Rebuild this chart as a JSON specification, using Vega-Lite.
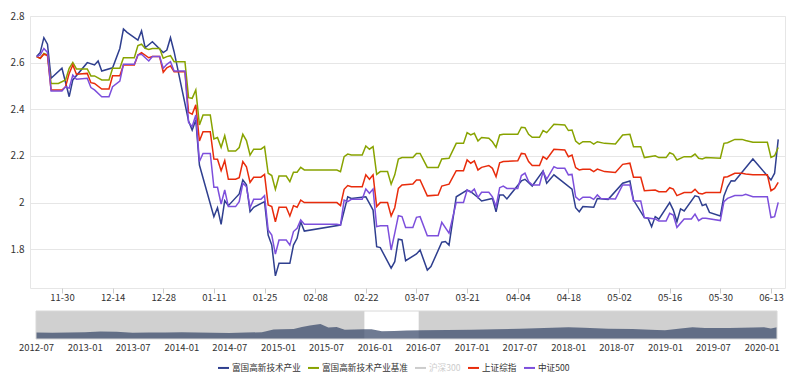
{
  "$schema": "https://vega.github.io/schema/vega-lite/v6.json",
  "padding": {"left": 9, "top": 10, "right": 5, "bottom": 0},
  "background": "white",
  "config": {"font": "Noto Sans CJK SC", "legend": {"orient": "none", "legendX": 187, "legendY": 345, "direction": "horizontal", "title": null, "symbolType": "stroke", "symbolStrokeWidth": 2, "symbolSize": 121, "labelFontSize": 8.6, "labelColor": "#333333", "columnPadding": 3, "labelOffset": 2, "padding": 0}},
  "spacing": 8,
  "datasets": {
    "b": [
      {"d":"2015-11-23","v":2.626},{"d":"2015-11-24","v":2.644},{"d":"2015-11-25","v":2.707},{"d":"2015-11-26","v":2.679},{"d":"2015-11-27","v":2.533},{"d":"2015-11-30","v":2.576},{"d":"2015-12-02","v":2.454},{"d":"2015-12-03","v":2.526},{"d":"2015-12-07","v":2.600},{"d":"2015-12-09","v":2.590},{"d":"2015-12-10","v":2.607},{"d":"2015-12-11","v":2.564},{"d":"2015-12-14","v":2.578},{"d":"2015-12-16","v":2.661},{"d":"2015-12-17","v":2.744},{"d":"2015-12-18","v":2.730},{"d":"2015-12-21","v":2.697},{"d":"2015-12-22","v":2.736},{"d":"2015-12-23","v":2.664},{"d":"2015-12-25","v":2.690},{"d":"2015-12-28","v":2.643},{"d":"2015-12-29","v":2.654},{"d":"2015-12-30","v":2.707},{"d":"2015-12-31","v":2.647},
      {"d":"2016-01-04","v":2.350},{"d":"2016-01-05","v":2.311},{"d":"2016-01-06","v":2.354},{"d":"2016-01-07","v":2.161},{"d":"2016-01-11","v":1.940},{"d":"2016-01-12","v":1.978},{"d":"2016-01-13","v":1.907},{"d":"2016-01-14","v":2.008},{"d":"2016-01-15","v":1.987},{"d":"2016-01-18","v":2.037},{"d":"2016-01-19","v":2.097},{"d":"2016-01-20","v":2.076},{"d":"2016-01-21","v":1.961},{"d":"2016-01-22","v":1.980},{"d":"2016-01-25","v":2.004},{"d":"2016-01-26","v":1.861},{"d":"2016-01-27","v":1.818},{"d":"2016-01-28","v":1.686},{"d":"2016-01-29","v":1.740},{"d":"2016-02-01","v":1.740},{"d":"2016-02-02","v":1.818},{"d":"2016-02-03","v":1.847},{"d":"2016-02-04","v":1.918},{"d":"2016-02-05","v":1.878},{"d":"2016-02-15","v":1.904},{"d":"2016-02-17","v":2.025},{"d":"2016-02-18","v":2.018},{"d":"2016-02-22","v":2.025},{"d":"2016-02-23","v":1.997},{"d":"2016-02-24","v":1.968},{"d":"2016-02-25","v":1.811},{"d":"2016-02-26","v":1.807},{"d":"2016-02-29","v":1.719},
      {"d":"2016-03-01","v":1.747},{"d":"2016-03-02","v":1.843},{"d":"2016-03-03","v":1.840},{"d":"2016-03-04","v":1.751},{"d":"2016-03-07","v":1.780},{"d":"2016-03-08","v":1.797},{"d":"2016-03-10","v":1.711},{"d":"2016-03-11","v":1.726},{"d":"2016-03-14","v":1.830},{"d":"2016-03-15","v":1.833},{"d":"2016-03-16","v":1.818},{"d":"2016-03-18","v":2.025},{"d":"2016-03-21","v":2.054},{"d":"2016-03-22","v":2.047},{"d":"2016-03-24","v":2.022},{"d":"2016-03-25","v":2.007},{"d":"2016-03-28","v":2.018},{"d":"2016-03-29","v":1.961},{"d":"2016-03-30","v":2.033},{"d":"2016-03-31","v":2.033},{"d":"2016-04-01","v":2.016},{"d":"2016-04-05","v":2.093},{"d":"2016-04-06","v":2.100},{"d":"2016-04-08","v":2.071},{"d":"2016-04-11","v":2.136},{"d":"2016-04-12","v":2.083},{"d":"2016-04-14","v":2.119},{"d":"2016-04-19","v":2.058},{"d":"2016-04-20","v":1.978},{"d":"2016-04-21","v":1.961},{"d":"2016-04-22","v":1.983},{"d":"2016-04-25","v":1.980},{"d":"2016-04-26","v":2.018},{"d":"2016-04-29","v":2.014},
      {"d":"2016-05-03","v":2.083},{"d":"2016-05-05","v":2.093},{"d":"2016-05-06","v":2.011},{"d":"2016-05-09","v":1.936},{"d":"2016-05-10","v":1.933},{"d":"2016-05-11","v":1.897},{"d":"2016-05-12","v":1.940},{"d":"2016-05-13","v":1.929},{"d":"2016-05-16","v":2.000},{"d":"2016-05-17","v":1.968},{"d":"2016-05-18","v":1.918},{"d":"2016-05-19","v":1.973},{"d":"2016-05-20","v":1.964},{"d":"2016-05-23","v":2.029},{"d":"2016-05-24","v":2.025},{"d":"2016-05-25","v":1.987},{"d":"2016-05-26","v":1.993},{"d":"2016-05-27","v":1.958},{"d":"2016-05-30","v":1.943},{"d":"2016-05-31","v":2.029},{"d":"2016-06-01","v":2.068},{"d":"2016-06-02","v":2.094},{"d":"2016-06-03","v":2.093},{"d":"2016-06-08","v":2.187},{"d":"2016-06-13","v":2.097},{"d":"2016-06-14","v":2.126},{"d":"2016-06-15","v":2.271}
    ],
    "g": [
      {"d":"2015-11-23","v":2.626},{"d":"2015-11-24","v":2.619},{"d":"2015-11-25","v":2.640},{"d":"2015-11-26","v":2.633},{"d":"2015-11-27","v":2.511},{"d":"2015-11-29","v":2.511},{"d":"2015-12-01","v":2.526},{"d":"2015-12-02","v":2.576},{"d":"2015-12-03","v":2.601},{"d":"2015-12-04","v":2.573},{"d":"2015-12-07","v":2.573},{"d":"2015-12-08","v":2.543},{"d":"2015-12-09","v":2.543},{"d":"2015-12-11","v":2.526},{"d":"2015-12-13","v":2.526},{"d":"2015-12-14","v":2.576},{"d":"2015-12-16","v":2.576},{"d":"2015-12-17","v":2.621},{"d":"2015-12-20","v":2.621},{"d":"2015-12-21","v":2.673},{"d":"2015-12-22","v":2.679},{"d":"2015-12-23","v":2.661},{"d":"2015-12-24","v":2.657},{"d":"2015-12-25","v":2.661},{"d":"2015-12-27","v":2.661},{"d":"2015-12-28","v":2.619},{"d":"2015-12-29","v":2.626},{"d":"2015-12-30","v":2.630},{"d":"2015-12-31","v":2.604},
      {"d":"2016-01-03","v":2.604},{"d":"2016-01-04","v":2.450},{"d":"2016-01-05","v":2.447},{"d":"2016-01-06","v":2.483},{"d":"2016-01-07","v":2.333},{"d":"2016-01-08","v":2.376},{"d":"2016-01-10","v":2.376},{"d":"2016-01-11","v":2.273},{"d":"2016-01-12","v":2.279},{"d":"2016-01-13","v":2.237},{"d":"2016-01-14","v":2.287},{"d":"2016-01-15","v":2.221},{"d":"2016-01-17","v":2.221},{"d":"2016-01-18","v":2.236},{"d":"2016-01-19","v":2.293},{"d":"2016-01-20","v":2.266},{"d":"2016-01-21","v":2.204},{"d":"2016-01-22","v":2.229},{"d":"2016-01-24","v":2.229},{"d":"2016-01-25","v":2.240},{"d":"2016-01-26","v":2.126},{"d":"2016-01-27","v":2.116},{"d":"2016-01-28","v":2.057},{"d":"2016-01-29","v":2.114},{"d":"2016-01-31","v":2.114},{"d":"2016-02-01","v":2.090},{"d":"2016-02-02","v":2.130},{"d":"2016-02-03","v":2.130},{"d":"2016-02-04","v":2.151},{"d":"2016-02-05","v":2.140},{"d":"2016-02-14","v":2.140},{"d":"2016-02-15","v":2.133},{"d":"2016-02-16","v":2.197},{"d":"2016-02-17","v":2.208},{"d":"2016-02-18","v":2.204},{"d":"2016-02-21","v":2.204},{"d":"2016-02-22","v":2.243},{"d":"2016-02-23","v":2.229},{"d":"2016-02-24","v":2.240},{"d":"2016-02-25","v":2.121},{"d":"2016-02-26","v":2.133},{"d":"2016-02-28","v":2.133},{"d":"2016-02-29","v":2.079},
      {"d":"2016-03-01","v":2.119},{"d":"2016-03-02","v":2.187},{"d":"2016-03-03","v":2.193},{"d":"2016-03-06","v":2.193},{"d":"2016-03-07","v":2.211},{"d":"2016-03-08","v":2.211},{"d":"2016-03-10","v":2.151},{"d":"2016-03-13","v":2.151},{"d":"2016-03-14","v":2.187},{"d":"2016-03-16","v":2.190},{"d":"2016-03-18","v":2.254},{"d":"2016-03-20","v":2.254},{"d":"2016-03-21","v":2.300},{"d":"2016-03-22","v":2.290},{"d":"2016-03-23","v":2.297},{"d":"2016-03-24","v":2.264},{"d":"2016-03-25","v":2.279},{"d":"2016-03-27","v":2.276},{"d":"2016-03-28","v":2.261},{"d":"2016-03-29","v":2.237},{"d":"2016-03-30","v":2.290},{"d":"2016-03-31","v":2.293},{"d":"2016-04-04","v":2.293},{"d":"2016-04-05","v":2.323},{"d":"2016-04-06","v":2.321},{"d":"2016-04-07","v":2.293},{"d":"2016-04-08","v":2.280},{"d":"2016-04-10","v":2.280},{"d":"2016-04-11","v":2.309},{"d":"2016-04-12","v":2.300},{"d":"2016-04-14","v":2.336},{"d":"2016-04-17","v":2.333},{"d":"2016-04-18","v":2.309},{"d":"2016-04-19","v":2.311},{"d":"2016-04-20","v":2.264},{"d":"2016-04-21","v":2.251},{"d":"2016-04-22","v":2.261},{"d":"2016-04-24","v":2.261},{"d":"2016-04-25","v":2.251},{"d":"2016-04-26","v":2.261},{"d":"2016-04-28","v":2.254},
      {"d":"2016-05-01","v":2.251},{"d":"2016-05-03","v":2.290},{"d":"2016-05-05","v":2.293},{"d":"2016-05-06","v":2.240},{"d":"2016-05-08","v":2.240},{"d":"2016-05-09","v":2.193},{"d":"2016-05-12","v":2.201},{"d":"2016-05-13","v":2.193},{"d":"2016-05-15","v":2.193},{"d":"2016-05-16","v":2.214},{"d":"2016-05-17","v":2.207},{"d":"2016-05-18","v":2.183},{"d":"2016-05-20","v":2.197},{"d":"2016-05-22","v":2.197},{"d":"2016-05-23","v":2.208},{"d":"2016-05-24","v":2.190},{"d":"2016-05-25","v":2.187},{"d":"2016-05-26","v":2.193},{"d":"2016-05-30","v":2.190},{"d":"2016-05-31","v":2.254},{"d":"2016-06-01","v":2.257},{"d":"2016-06-03","v":2.271},{"d":"2016-06-05","v":2.271},{"d":"2016-06-06","v":2.266},{"d":"2016-06-08","v":2.259},{"d":"2016-06-12","v":2.259},{"d":"2016-06-13","v":2.194},{"d":"2016-06-14","v":2.201},{"d":"2016-06-15","v":2.236}
    ],
    "r": [
      {"d":"2015-11-23","v":2.626},{"d":"2015-11-24","v":2.619},{"d":"2015-11-25","v":2.636},{"d":"2015-11-26","v":2.630},{"d":"2015-11-27","v":2.483},{"d":"2015-11-30","v":2.483},{"d":"2015-12-01","v":2.497},{"d":"2015-12-02","v":2.554},{"d":"2015-12-03","v":2.590},{"d":"2015-12-04","v":2.550},{"d":"2015-12-07","v":2.554},{"d":"2015-12-08","v":2.514},{"d":"2015-12-09","v":2.511},{"d":"2015-12-11","v":2.487},{"d":"2015-12-13","v":2.487},{"d":"2015-12-14","v":2.544},{"d":"2015-12-16","v":2.544},{"d":"2015-12-17","v":2.590},{"d":"2015-12-20","v":2.590},{"d":"2015-12-21","v":2.633},{"d":"2015-12-22","v":2.643},{"d":"2015-12-24","v":2.621},{"d":"2015-12-25","v":2.626},{"d":"2015-12-27","v":2.626},{"d":"2015-12-28","v":2.559},{"d":"2015-12-29","v":2.578},{"d":"2015-12-30","v":2.586},{"d":"2015-12-31","v":2.561},
      {"d":"2016-01-03","v":2.561},{"d":"2016-01-04","v":2.387},{"d":"2016-01-05","v":2.379},{"d":"2016-01-06","v":2.419},{"d":"2016-01-07","v":2.264},{"d":"2016-01-08","v":2.304},{"d":"2016-01-10","v":2.304},{"d":"2016-01-11","v":2.187},{"d":"2016-01-12","v":2.186},{"d":"2016-01-13","v":2.137},{"d":"2016-01-14","v":2.180},{"d":"2016-01-15","v":2.100},{"d":"2016-01-17","v":2.100},{"d":"2016-01-18","v":2.107},{"d":"2016-01-19","v":2.176},{"d":"2016-01-20","v":2.154},{"d":"2016-01-21","v":2.087},{"d":"2016-01-22","v":2.109},{"d":"2016-01-24","v":2.109},{"d":"2016-01-25","v":2.121},{"d":"2016-01-26","v":1.990},{"d":"2016-01-27","v":1.983},{"d":"2016-01-28","v":1.918},{"d":"2016-01-29","v":1.980},{"d":"2016-01-31","v":1.980},{"d":"2016-02-01","v":1.943},{"d":"2016-02-02","v":1.987},{"d":"2016-02-03","v":1.980},{"d":"2016-02-04","v":2.011},{"d":"2016-02-05","v":2.000},{"d":"2016-02-14","v":2.000},{"d":"2016-02-15","v":1.987},{"d":"2016-02-16","v":2.057},{"d":"2016-02-17","v":2.073},{"d":"2016-02-18","v":2.068},{"d":"2016-02-21","v":2.068},{"d":"2016-02-22","v":2.119},{"d":"2016-02-23","v":2.100},{"d":"2016-02-24","v":2.119},{"d":"2016-02-25","v":1.983},{"d":"2016-02-26","v":2.000},{"d":"2016-02-28","v":2.000},{"d":"2016-02-29","v":1.943},
      {"d":"2016-03-01","v":1.978},{"d":"2016-03-02","v":2.061},{"d":"2016-03-03","v":2.076},{"d":"2016-03-06","v":2.080},{"d":"2016-03-07","v":2.097},{"d":"2016-03-08","v":2.097},{"d":"2016-03-10","v":2.029},{"d":"2016-03-13","v":2.033},{"d":"2016-03-14","v":2.071},{"d":"2016-03-16","v":2.079},{"d":"2016-03-18","v":2.137},{"d":"2016-03-20","v":2.137},{"d":"2016-03-21","v":2.183},{"d":"2016-03-22","v":2.169},{"d":"2016-03-23","v":2.179},{"d":"2016-03-24","v":2.140},{"d":"2016-03-25","v":2.151},{"d":"2016-03-27","v":2.159},{"d":"2016-03-28","v":2.147},{"d":"2016-03-29","v":2.111},{"d":"2016-03-30","v":2.171},{"d":"2016-03-31","v":2.176},{"d":"2016-04-04","v":2.179},{"d":"2016-04-05","v":2.211},{"d":"2016-04-06","v":2.209},{"d":"2016-04-07","v":2.176},{"d":"2016-04-08","v":2.159},{"d":"2016-04-10","v":2.159},{"d":"2016-04-11","v":2.197},{"d":"2016-04-12","v":2.186},{"d":"2016-04-14","v":2.229},{"d":"2016-04-17","v":2.226},{"d":"2016-04-18","v":2.197},{"d":"2016-04-19","v":2.204},{"d":"2016-04-20","v":2.150},{"d":"2016-04-21","v":2.140},{"d":"2016-04-22","v":2.143},{"d":"2016-04-24","v":2.143},{"d":"2016-04-25","v":2.133},{"d":"2016-04-26","v":2.144},{"d":"2016-04-28","v":2.133},
      {"d":"2016-05-01","v":2.129},{"d":"2016-05-03","v":2.164},{"d":"2016-05-05","v":2.169},{"d":"2016-05-06","v":2.109},{"d":"2016-05-08","v":2.109},{"d":"2016-05-09","v":2.051},{"d":"2016-05-12","v":2.054},{"d":"2016-05-13","v":2.047},{"d":"2016-05-15","v":2.047},{"d":"2016-05-16","v":2.064},{"d":"2016-05-17","v":2.058},{"d":"2016-05-18","v":2.030},{"d":"2016-05-20","v":2.043},{"d":"2016-05-22","v":2.043},{"d":"2016-05-23","v":2.057},{"d":"2016-05-24","v":2.040},{"d":"2016-05-25","v":2.037},{"d":"2016-05-26","v":2.043},{"d":"2016-05-30","v":2.043},{"d":"2016-05-31","v":2.109},{"d":"2016-06-01","v":2.111},{"d":"2016-06-03","v":2.126},{"d":"2016-06-05","v":2.126},{"d":"2016-06-06","v":2.123},{"d":"2016-06-08","v":2.119},{"d":"2016-06-12","v":2.119},{"d":"2016-06-13","v":2.051},{"d":"2016-06-14","v":2.061},{"d":"2016-06-15","v":2.087}
    ],
    "p": [
      {"d":"2015-11-23","v":2.626},{"d":"2015-11-24","v":2.633},{"d":"2015-11-25","v":2.661},{"d":"2015-11-26","v":2.644},{"d":"2015-11-27","v":2.479},{"d":"2015-11-30","v":2.479},{"d":"2015-12-01","v":2.497},{"d":"2015-12-02","v":2.490},{"d":"2015-12-03","v":2.547},{"d":"2015-12-04","v":2.529},{"d":"2015-12-07","v":2.533},{"d":"2015-12-08","v":2.493},{"d":"2015-12-09","v":2.483},{"d":"2015-12-11","v":2.454},{"d":"2015-12-13","v":2.454},{"d":"2015-12-14","v":2.497},{"d":"2015-12-16","v":2.521},{"d":"2015-12-17","v":2.593},{"d":"2015-12-20","v":2.593},{"d":"2015-12-21","v":2.633},{"d":"2015-12-22","v":2.636},{"d":"2015-12-24","v":2.607},{"d":"2015-12-25","v":2.626},{"d":"2015-12-27","v":2.626},{"d":"2015-12-28","v":2.576},{"d":"2015-12-29","v":2.593},{"d":"2015-12-30","v":2.604},{"d":"2015-12-31","v":2.564},
      {"d":"2016-01-03","v":2.564},{"d":"2016-01-04","v":2.344},{"d":"2016-01-05","v":2.326},{"d":"2016-01-06","v":2.376},{"d":"2016-01-07","v":2.176},{"d":"2016-01-08","v":2.211},{"d":"2016-01-10","v":2.211},{"d":"2016-01-11","v":2.066},{"d":"2016-01-12","v":2.066},{"d":"2016-01-13","v":1.994},{"d":"2016-01-14","v":2.054},{"d":"2016-01-15","v":1.983},{"d":"2016-01-17","v":1.983},{"d":"2016-01-18","v":2.004},{"d":"2016-01-19","v":2.083},{"d":"2016-01-20","v":2.068},{"d":"2016-01-21","v":1.978},{"d":"2016-01-22","v":2.014},{"d":"2016-01-24","v":2.014},{"d":"2016-01-25","v":2.030},{"d":"2016-01-26","v":1.883},{"d":"2016-01-27","v":1.861},{"d":"2016-01-28","v":1.779},{"d":"2016-01-29","v":1.840},{"d":"2016-01-31","v":1.840},{"d":"2016-02-01","v":1.818},{"d":"2016-02-02","v":1.876},{"d":"2016-02-03","v":1.890},{"d":"2016-02-04","v":1.926},{"d":"2016-02-05","v":1.907},{"d":"2016-02-14","v":1.907},{"d":"2016-02-15","v":1.904},{"d":"2016-02-16","v":2.011},{"d":"2016-02-17","v":2.004},{"d":"2016-02-18","v":2.014},{"d":"2016-02-21","v":2.014},{"d":"2016-02-22","v":2.058},{"d":"2016-02-23","v":2.040},{"d":"2016-02-24","v":2.058},{"d":"2016-02-25","v":1.897},{"d":"2016-02-26","v":1.901},{"d":"2016-02-28","v":1.901},{"d":"2016-02-29","v":1.797},
      {"d":"2016-03-01","v":1.869},{"d":"2016-03-02","v":1.944},{"d":"2016-03-03","v":1.940},{"d":"2016-03-04","v":1.893},{"d":"2016-03-06","v":1.893},{"d":"2016-03-07","v":1.937},{"d":"2016-03-08","v":1.940},{"d":"2016-03-10","v":1.858},{"d":"2016-03-13","v":1.858},{"d":"2016-03-14","v":1.916},{"d":"2016-03-16","v":1.869},{"d":"2016-03-18","v":2.001},{"d":"2016-03-20","v":2.001},{"d":"2016-03-21","v":2.054},{"d":"2016-03-22","v":2.044},{"d":"2016-03-23","v":2.058},{"d":"2016-03-24","v":2.022},{"d":"2016-03-25","v":2.044},{"d":"2016-03-27","v":2.044},{"d":"2016-03-28","v":2.025},{"d":"2016-03-29","v":1.983},{"d":"2016-03-30","v":2.064},{"d":"2016-03-31","v":2.071},{"d":"2016-04-01","v":2.061},{"d":"2016-04-04","v":2.061},{"d":"2016-04-05","v":2.116},{"d":"2016-04-06","v":2.126},{"d":"2016-04-07","v":2.090},{"d":"2016-04-08","v":2.076},{"d":"2016-04-10","v":2.076},{"d":"2016-04-11","v":2.133},{"d":"2016-04-12","v":2.101},{"d":"2016-04-14","v":2.154},{"d":"2016-04-15","v":2.147},{"d":"2016-04-17","v":2.147},{"d":"2016-04-18","v":2.119},{"d":"2016-04-19","v":2.121},{"d":"2016-04-20","v":2.025},{"d":"2016-04-21","v":2.011},{"d":"2016-04-22","v":2.023},{"d":"2016-04-24","v":2.023},{"d":"2016-04-25","v":2.014},{"d":"2016-04-26","v":2.033},{"d":"2016-04-27","v":2.018},
      {"d":"2016-05-01","v":2.016},{"d":"2016-05-03","v":2.076},{"d":"2016-05-05","v":2.076},{"d":"2016-05-06","v":2.007},{"d":"2016-05-08","v":2.007},{"d":"2016-05-09","v":1.936},{"d":"2016-05-12","v":1.930},{"d":"2016-05-13","v":1.921},{"d":"2016-05-15","v":1.921},{"d":"2016-05-16","v":1.954},{"d":"2016-05-17","v":1.947},{"d":"2016-05-18","v":1.894},{"d":"2016-05-20","v":1.930},{"d":"2016-05-22","v":1.930},{"d":"2016-05-23","v":1.951},{"d":"2016-05-24","v":1.923},{"d":"2016-05-25","v":1.933},{"d":"2016-05-26","v":1.933},{"d":"2016-05-30","v":1.923},{"d":"2016-05-31","v":2.004},{"d":"2016-06-01","v":2.018},{"d":"2016-06-03","v":2.030},{"d":"2016-06-05","v":2.030},{"d":"2016-06-06","v":2.036},{"d":"2016-06-08","v":2.025},{"d":"2016-06-12","v":2.025},{"d":"2016-06-13","v":1.936},{"d":"2016-06-14","v":1.940},{"d":"2016-06-15","v":2.001}
    ],
    "nav": [
      {"d":"2012-07-01","v":1.82},{"d":"2012-09-01","v":1.76},{"d":"2012-11-01","v":1.79},{"d":"2013-01-01","v":1.90},{"d":"2013-03-01","v":2.13},{"d":"2013-05-01","v":2.02},{"d":"2013-07-01","v":1.74},{"d":"2013-09-01","v":1.82},{"d":"2013-11-01","v":1.85},{"d":"2014-01-01","v":1.88},{"d":"2014-03-01","v":1.79},{"d":"2014-05-01","v":1.74},{"d":"2014-07-01","v":1.71},{"d":"2014-09-01","v":1.79},{"d":"2014-11-01","v":1.90},{"d":"2014-12-15","v":2.66},{"d":"2015-01-15","v":2.74},{"d":"2015-03-01","v":2.80},{"d":"2015-04-01","v":3.36},{"d":"2015-05-01","v":3.78},{"d":"2015-06-10","v":4.20},{"d":"2015-07-10","v":3.22},{"d":"2015-08-10","v":3.36},{"d":"2015-09-10","v":2.58},{"d":"2015-10-15","v":2.66},{"d":"2015-11-20","v":2.74},{"d":"2015-12-20","v":2.74},{"d":"2016-01-28","v":2.18},{"d":"2016-03-15","v":2.24},{"d":"2016-05-01","v":2.35},{"d":"2016-07-01","v":2.44},{"d":"2016-10-01","v":2.52},{"d":"2017-01-01","v":2.60},{"d":"2017-04-01","v":2.74},{"d":"2017-07-01","v":2.88},{"d":"2017-10-01","v":3.08},{"d":"2018-01-01","v":3.30},{"d":"2018-03-01","v":3.16},{"d":"2018-06-01","v":2.88},{"d":"2018-09-01","v":2.80},{"d":"2018-12-01","v":2.52},{"d":"2019-01-01","v":2.44},{"d":"2019-03-01","v":2.94},{"d":"2019-04-15","v":3.30},{"d":"2019-06-01","v":3.08},{"d":"2019-09-01","v":3.08},{"d":"2019-12-01","v":3.22},{"d":"2020-01-10","v":3.30},{"d":"2020-02-05","v":2.94},{"d":"2020-02-28","v":3.30}
    ]
  },
  "vconcat": [
    {
      "width": 755,
      "height": 272,
      "view": {"stroke": "#e6e6e6"},
      "encoding": {
        "x": {"field": "d", "type": "temporal",
          "scale": {"type": "utc", "domain": [{"year": 2015, "month": 11, "date": 21, "hours": 4, "utc": true}, {"year": 2016, "month": 6, "date": 16, "hours": 21, "utc": true}]},
          "axis": {"title": null, "format": "%m-%d", "grid": false, "domain": false, "tickColor": "#cccccc", "tickSize": 5, "labelPadding": -1, "labelFontSize": 9.5, "labelColor": "#333333", "labelFlush": false, "labelOverlap": false,
            "values": [{"year":2015,"month":11,"date":30,"utc":true},{"year":2015,"month":12,"date":14,"utc":true},{"year":2015,"month":12,"date":28,"utc":true},{"year":2016,"month":1,"date":11,"utc":true},{"year":2016,"month":1,"date":25,"utc":true},{"year":2016,"month":2,"date":8,"utc":true},{"year":2016,"month":2,"date":22,"utc":true},{"year":2016,"month":3,"date":7,"utc":true},{"year":2016,"month":3,"date":21,"utc":true},{"year":2016,"month":4,"date":4,"utc":true},{"year":2016,"month":4,"date":18,"utc":true},{"year":2016,"month":5,"date":2,"utc":true},{"year":2016,"month":5,"date":16,"utc":true},{"year":2016,"month":5,"date":30,"utc":true},{"year":2016,"month":6,"date":13,"utc":true}]}},
        "y": {"field": "v", "type": "quantitative",
          "scale": {"domain": [1.634, 2.8], "nice": false, "zero": false},
          "axis": {"title": null, "values": [1.8, 2.0, 2.2, 2.4, 2.6, 2.8], "format": "~g", "grid": true, "gridColor": "#e6e6e6", "domain": false, "ticks": false, "labelPadding": 6, "labelFontSize": 10, "labelColor": "#333333"}}
      },
      "layer": [
        {"data": {"name": "b"}, "mark": {"type": "line", "strokeWidth": 1.5},
          "encoding": {"color": {"datum": "富国高新技术产业", "type": "nominal",
            "scale": {"domain": ["富国高新技术产业", "富国高新技术产业基准", "沪深300", "上证综指", "中证500"], "range": ["#2f3f8f", "#88a300", "#cccccc", "#e82c0c", "#7d4fdc"]},
            "legend": {"encode": {"labels": {"update": {"fill": {"signal": "datum.label === '沪深300' ? '#cccccc' : '#333333'"}}}}}}}},
        {"data": {"name": "g"}, "mark": {"type": "line", "strokeWidth": 1.5}, "encoding": {"color": {"datum": "富国高新技术产业基准", "type": "nominal"}}},
        {"data": {"name": "r"}, "mark": {"type": "line", "strokeWidth": 1.5}, "encoding": {"color": {"datum": "上证综指", "type": "nominal"}}},
        {"data": {"name": "p"}, "mark": {"type": "line", "strokeWidth": 1.5}, "encoding": {"color": {"datum": "中证500", "type": "nominal"}}}
      ]
    },
    {
      "width": 755,
      "height": 28,
      "view": {"stroke": null},
      "layer": [
        {"data": {"values": [{"a": "2012-07-01", "b": "2015-11-23"}, {"a": "2016-06-15", "b": "2020-02-28"}]},
          "mark": {"type": "rect", "color": "#d0d0d0"},
          "encoding": {
            "x": {"field": "a", "type": "temporal",
              "scale": {"type": "utc", "domain": [{"year": 2012, "month": 7, "date": 1, "utc": true}, {"year": 2020, "month": 2, "date": 28, "utc": true}], "range": [6, 747]},
              "axis": {"title": null, "format": "%Y-%m", "grid": false, "domain": false, "ticks": false, "labelPadding": 3, "labelFontSize": 9.5, "labelColor": "#333333", "labelFlush": false, "labelOverlap": false,
                "values": [{"year":2012,"month":7,"date":1,"utc":true},{"year":2013,"month":1,"date":1,"utc":true},{"year":2013,"month":7,"date":1,"utc":true},{"year":2014,"month":1,"date":1,"utc":true},{"year":2014,"month":7,"date":1,"utc":true},{"year":2015,"month":1,"date":1,"utc":true},{"year":2015,"month":7,"date":1,"utc":true},{"year":2016,"month":1,"date":1,"utc":true},{"year":2016,"month":7,"date":1,"utc":true},{"year":2017,"month":1,"date":1,"utc":true},{"year":2017,"month":7,"date":1,"utc":true},{"year":2018,"month":1,"date":1,"utc":true},{"year":2018,"month":7,"date":1,"utc":true},{"year":2019,"month":1,"date":1,"utc":true},{"year":2019,"month":7,"date":1,"utc":true},{"year":2020,"month":1,"date":1,"utc":true}]}},
            "x2": {"field": "b"}
          }},
        {"data": {"name": "nav"},
          "mark": {"type": "area", "color": "#3d4d6e", "opacity": 0.75},
          "encoding": {
            "x": {"field": "d", "type": "temporal"},
            "y": {"field": "v", "type": "quantitative", "scale": {"domain": [0, 7.84], "nice": false}, "axis": null}
          }},
        {"data": {"values": [{"a": "2012-07-01", "b": "2020-02-28"}]},
          "mark": {"type": "rect", "fill": null, "stroke": "#d8d8d8", "strokeWidth": 1},
          "encoding": {"x": {"field": "a", "type": "temporal"}, "x2": {"field": "b"}}}
      ]
    }
  ]
}
